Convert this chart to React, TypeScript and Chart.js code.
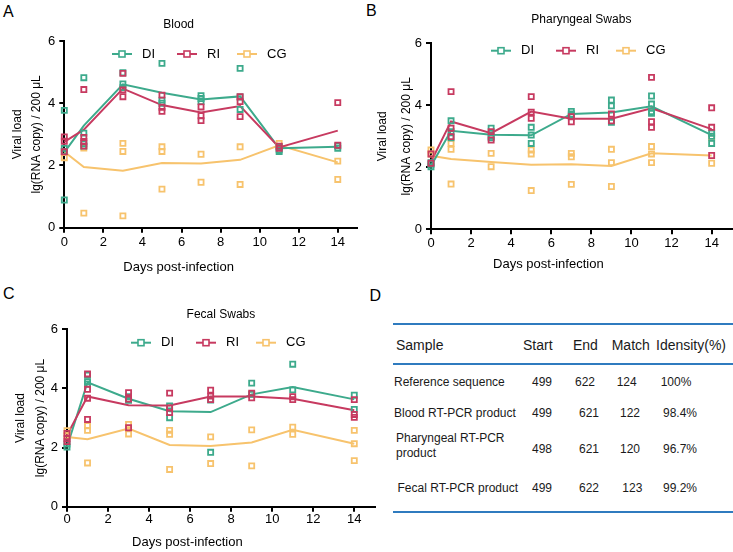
import React, { useEffect, useRef } from "react";
import { Chart, registerables } from "chart.js";

Chart.register(...registerables);

const FONT = '"Liberation Sans", Arial, Helvetica, sans-serif';
Chart.defaults.font.family = FONT;

// ---------- shared axis / group data ----------
const days = [0, 1, 3, 5, 7, 9, 11, 14];
const xTickValues = [0, 2, 4, 6, 8, 10, 12, 14];
const yTickValues = [0, 2, 4, 6];
const groups = ["DI", "RI", "CG"];
const groupColors = ["#3daa8c", "#c73a60", "#f7c36d"];
const xAxisTitle = "Days post-infection";
const yAxisTitle = ["Viral load", "lg(RNA copy) / 200 μL"];

// ---------- A: Blood ----------
const bloodMeanDI = [2.42, 3.28, 4.61, 4.34, 4.12, 4.22, 2.55, 2.6];
const bloodMeanRI = [2.76, 3.15, 4.47, 3.94, 3.7, 3.91, 2.58, 3.12];
const bloodMeanCG = [2.44, 1.95, 1.83, 2.08, 2.06, 2.18, 2.65, 2.1];
const bloodPtsDI = [[3.77, 0.89, 2.45, 2.55], [4.82, 3.04, 2.7, 2.62], [4.98, 4.62, 4.5], [5.28, 4.1, 4.0], [4.24, 4.15, 4.05], [5.12, 4.2, 3.8], [2.6, 2.5, 2.45], [2.62, 2.55]];
const bloodPtsRI = [[2.92, 2.78, 2.44], [4.44, 2.9, 2.77, 2.62], [4.96, 4.43, 4.21], [4.26, 3.87, 3.74], [3.88, 3.6, 3.44], [4.21, 4.05, 3.57], [2.62, 2.55], [4.02, 2.65]];
const bloodPtsCG = [[2.44, 2.25], [2.56, 0.47], [2.71, 2.45, 0.38], [2.6, 2.45, 1.24], [2.36, 1.46], [2.6, 1.39], [2.71, 2.6], [2.14, 1.55]];

// ---------- B: Pharyngeal swabs ----------
const pharMeanDI = [2.05, 3.18, 3.05, 3.03, 3.72, 3.77, 3.97, 3.04];
const pharMeanRI = [2.18, 3.48, 3.1, 3.8, 3.57, 3.57, 3.9, 3.23];
const pharMeanCG = [2.37, 2.27, 2.17, 2.08, 2.1, 2.04, 2.45, 2.38];
const pharPtsDI = [[2.02, 2.1, 2.15], [3.5, 3.15, 2.95], [3.26, 3.0, 2.95], [3.29, 3.04, 2.77], [3.8, 3.72, 3.68], [4.17, 3.98, 3.45], [4.3, 4.04, 3.74, 3.8], [3.1, 2.77, 3.0]];
const pharPtsRI = [[2.43, 2.13], [4.44, 3.26, 2.99], [3.15, 2.88], [4.28, 3.78, 3.58], [3.63, 3.47], [3.72, 3.5], [4.9, 3.47, 3.29], [3.92, 3.29, 2.38]];
const pharPtsCG = [[2.56, 2.43], [2.77, 2.58, 1.46], [2.45, 2.02], [2.56, 2.43, 1.25], [2.45, 2.34, 1.45], [2.58, 2.15, 1.38], [2.67, 2.43, 2.15], [2.95, 2.13]];

// ---------- C: Fecal swabs ----------
const fecalMeanDI = [2.03, 4.21, 3.65, 3.23, 3.2, 3.8, 4.05, 3.63];
const fecalMeanRI = [2.42, 3.73, 3.43, 3.42, 3.73, 3.73, 3.65, 3.26];
const fecalMeanCG = [2.36, 2.28, 2.64, 2.09, 2.05, 2.17, 2.6, 2.13];
const fecalPtsDI = [[2.02, 2.12], [4.45, 4.23, 4.15], [3.72, 3.6], [3.41, 3.01], [3.61, 1.84], [4.18, 3.8], [4.82, 3.95], [3.77, 3.29]];
const fecalPtsRI = [[2.48, 2.3, 2.2], [4.49, 3.97, 3.67, 2.95], [3.86, 3.64, 2.67], [3.84, 3.34, 3.18], [3.94, 3.74, 3.62], [3.84, 3.68], [3.72, 3.62], [3.62, 3.12, 3.02]];
const fecalPtsCG = [[2.57, 2.4], [2.74, 2.58, 1.48], [2.78, 2.46], [2.58, 2.45, 1.26], [2.36, 1.46], [2.6, 1.38], [2.69, 2.45], [2.58, 2.13, 1.56]];

// ---------- D: table ----------
const tableHeader = ["Sample", "Start", "End", "Match", "Idensity(%)"];
const tableSamples = ["Reference sequence", "Blood RT-PCR product", "Pharyngeal RT-PCR product", "Fecal RT-PCR product"];
const tableStart = ["499", "499", "498", "499"];
const tableEnd = ["622", "621", "621", "622"];
const tableMatch = ["124", "122", "120", "123"];
const tableIdentity = ["100%", "98.4%", "96.7%", "99.2%"];

// ---------- layout (positions / sizes) ----------
type Lay = {
  left: number; top: number; width: number; height: number;
  yW: number; padR: number; yTitlePad: number; yTitleLH: number;
  titlePadTop: number; titlePadBottom: number; titleFull: boolean;
  subPadBottom: number; xH: number; xTickPad: number;
  legendDX: number; legendDY: number;
};

const layA: Lay = { left: 0, top: 0, width: 390, height: 280, yW: 64.3, padR: 32.7, yTitlePad: 7.75, yTitleLH: 19.5, titlePadTop: 17.8, titlePadBottom: 8.8, titleFull: true, subPadBottom: 4.7, xH: 32, xTickPad: 2, legendDX: 57.7, legendDY: 13 };
const layB: Lay = { left: 365, top: 0, width: 393, height: 280, yW: 66, padR: 26.3, yTitlePad: 5.25, yTitleLH: 24.5, titlePadTop: 12, titlePadBottom: 16.9, titleFull: false, subPadBottom: 8.2, xH: 26.9, xTickPad: 1, legendDX: 70, legendDY: 7.4 };
const layC: Lay = { left: 0, top: 280, width: 403, height: 272, yW: 67, padR: 28.2, yTitlePad: 10.25, yTitleLH: 20.5, titlePadTop: 27.5, titlePadBottom: 7.4, titleFull: false, subPadBottom: 1.7, xH: 28, xTickPad: 0, legendDX: 74, legendDY: 13.4 };
const legendSpacing = [0, 65, 125];

const insideLegend = {
  id: "insideLegend",
  afterDatasetsDraw(chart: any, _args: any, opts: any) {
    const { ctx, chartArea } = chart;
    const x0 = chartArea.left + opts.dx;
    const y = chartArea.top + opts.dy;
    ctx.save();
    groups.forEach((name, i) => {
      const cx = x0 + legendSpacing[i];
      const color = groupColors[i];
      ctx.strokeStyle = color;
      ctx.lineWidth = 2;
      ctx.beginPath();
      ctx.moveTo(cx - 10, y);
      ctx.lineTo(cx + 10, y);
      ctx.stroke();
      ctx.fillStyle = "#fff";
      ctx.lineWidth = 1.6;
      ctx.fillRect(cx - 3, y - 3, 6, 6);
      ctx.strokeRect(cx - 3, y - 3, 6, 6);
      ctx.fillStyle = "#000";
      ctx.font = `13px ${FONT}`;
      ctx.textBaseline = "middle";
      ctx.textAlign = "left";
      ctx.fillText(name, cx + 20, y);
    });
    ctx.restore();
  },
};

function ViralChart({ title, means, points, lay }: { title: string; means: number[][]; points: number[][][]; lay: Lay }) {
  const ref = useRef<HTMLCanvasElement>(null);
  useEffect(() => {
    if (!ref.current) return;
    const drawOrder = [1, 0, 2];
    const datasets: any[] = [];
    drawOrder.forEach((g) => {
      datasets.push({
        type: "scatter",
        label: groups[g] + " individual",
        data: points[g].flatMap((vals, i) => vals.map((v) => ({ x: days[i], y: v }))),
        showLine: false,
        pointStyle: "rect",
        pointRadius: 3.6,
        pointHoverRadius: 3.6,
        pointBorderWidth: 1.8,
        borderColor: groupColors[g],
        backgroundColor: "rgba(255,255,255,0)",
        clip: false,
      });
    });
    drawOrder.forEach((g) => {
      datasets.push({
        type: "line",
        label: groups[g],
        data: means[g].map((v, i) => ({ x: days[i], y: v })),
        borderColor: groupColors[g],
        backgroundColor: groupColors[g],
        borderWidth: 2,
        pointRadius: 0,
        tension: 0,
        fill: false,
        clip: false,
      });
    });

    const chart = new Chart(ref.current, {
      type: "scatter",
      data: { datasets },
      plugins: [insideLegend],
      options: {
        responsive: false,
        animation: false,
        events: [],
        layout: { padding: { left: 0, right: lay.padR, top: 0, bottom: 0 } },
        plugins: {
          legend: { display: false },
          tooltip: { enabled: false },
          title: {
            display: true,
            text: title,
            color: "#000",
            font: { size: 12, weight: "normal", family: FONT, lineHeight: 1.2 },
            padding: { top: lay.titlePadTop, bottom: lay.titlePadBottom },
            fullSize: lay.titleFull,
          },
          subtitle: {
            display: true,
            position: "bottom",
            text: xAxisTitle,
            color: "#000",
            font: { size: 13, weight: "normal", family: FONT, lineHeight: 1.2 },
            padding: { top: 0, bottom: lay.subPadBottom },
            fullSize: true,
          },
          insideLegend: { dx: lay.legendDX, dy: lay.legendDY },
        } as any,
        scales: {
          x: {
            type: "linear",
            min: 0,
            max: 15,
            afterBuildTicks: (s: any) => {
              s.ticks = xTickValues.map((v) => ({ value: v }));
            },
            afterFit: (s: any) => {
              s.height = lay.xH;
            },
            ticks: { color: "#000", font: { size: 13, family: FONT }, padding: lay.xTickPad, maxRotation: 0, autoSkip: false },
            grid: { drawOnChartArea: false, drawTicks: true, tickLength: 5, color: "#000", lineWidth: 2 },
            border: { color: "#000", width: 2 },
          },
          y: {
            type: "linear",
            min: 0,
            max: 6,
            afterBuildTicks: (s: any) => {
              s.ticks = yTickValues.map((v) => ({ value: v }));
            },
            afterFit: (s: any) => {
              s.width = lay.yW;
            },
            ticks: { color: "#000", font: { size: 13, family: FONT }, padding: 4 },
            grid: { drawOnChartArea: false, drawTicks: true, tickLength: 5, color: "#000", lineWidth: 2 },
            border: { color: "#000", width: 2 },
            title: {
              display: true,
              text: yAxisTitle,
              color: "#000",
              font: { size: 12, family: FONT, lineHeight: lay.yTitleLH / 12 },
              padding: { top: lay.yTitlePad, bottom: 0 },
            },
          },
        },
      } as any,
    });
    return () => chart.destroy();
  }, []);
  return (
    <canvas
      ref={ref}
      width={lay.width}
      height={lay.height}
      style={{ position: "absolute", left: lay.left, top: lay.top, width: lay.width, height: lay.height }}
    />
  );
}

// table layout
const headerLeft = [396, 523, 573, 611.7, 656];
const headerCY = 344.5;
const rowCY = [381.5, 413.3, 449, 487.8];
const sampleLeft = [394, 394, 396, 397.5];
const startLeft = [532, 532, 532, 532];
const endLeft = [575, 579, 579, 579];
const matchLeft = [616.7, 620, 620, 622.3];
const identLeft = [660.7, 663, 663, 663];
const ruleY = [323.3, 363, 510.7];

function txt(s: string, left: number, cy: number, size: number, key: string, extra: any = {}) {
  const lh = size + 4;
  return (
    <div key={key} style={{ position: "absolute", left, top: cy - lh / 2, fontSize: size, lineHeight: `${lh}px`, whiteSpace: "nowrap", color: "#1a1a1a", ...extra }}>
      {s}
    </div>
  );
}

function Table() {
  const items: any[] = [];
  tableHeader.forEach((h, i) => items.push(txt(h, headerLeft[i], headerCY, 14, "h" + i)));
  tableSamples.forEach((s, r) => {
    if (s.length > 22) {
      items.push(
        <div key={"s" + r} style={{ position: "absolute", left: sampleLeft[r], top: rowCY[r] - 3.3 - 14.7, width: 128, fontSize: 12, lineHeight: "14.7px", color: "#1a1a1a" }}>
          {s}
        </div>
      );
    } else {
      items.push(txt(s, sampleLeft[r], rowCY[r], 12, "s" + r));
    }
    items.push(txt(tableStart[r], startLeft[r], rowCY[r], 12, "a" + r));
    items.push(txt(tableEnd[r], endLeft[r], rowCY[r], 12, "b" + r));
    items.push(txt(tableMatch[r], matchLeft[r], rowCY[r], 12, "c" + r));
    items.push(txt(tableIdentity[r], identLeft[r], rowCY[r], 12, "d" + r));
  });
  ruleY.forEach((y, i) =>
    items.push(<div key={"r" + i} style={{ position: "absolute", left: 392.7, top: y, width: 340.3, height: 2, background: "#2f7bbf" }} />)
  );
  return <>{items}</>;
}

const panelLetters = ["A", "B", "C", "D"];
const letterPos = [[3, 4], [366, 3], [3, 286.2], [369.5, 288]];

export default function App() {
  return (
    <div style={{ position: "absolute", left: 0, top: 0, width: 733, height: 552, overflow: "hidden", background: "#fff", fontFamily: FONT }}>
      <Table />
      {panelLetters.map((l, i) => (
        <div key={l} style={{ position: "absolute", left: letterPos[i][0], top: letterPos[i][1], fontSize: 16, lineHeight: "16px", color: "#000" }}>
          {l}
        </div>
      ))}
      <ViralChart title="Blood" means={[bloodMeanDI, bloodMeanRI, bloodMeanCG]} points={[bloodPtsDI, bloodPtsRI, bloodPtsCG]} lay={layA} />
      <ViralChart title="Pharyngeal Swabs" means={[pharMeanDI, pharMeanRI, pharMeanCG]} points={[pharPtsDI, pharPtsRI, pharPtsCG]} lay={layB} />
      <ViralChart title="Fecal Swabs" means={[fecalMeanDI, fecalMeanRI, fecalMeanCG]} points={[fecalPtsDI, fecalPtsRI, fecalPtsCG]} lay={layC} />
    </div>
  );
}
